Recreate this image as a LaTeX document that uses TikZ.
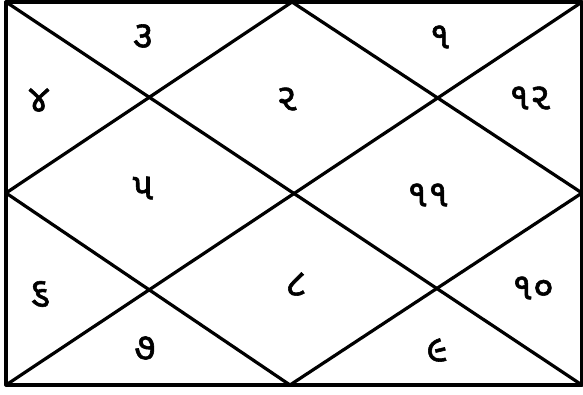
\documentclass[tikz,border=0pt]{standalone}
\usepackage{fontspec}
\newfontfamily\gujfont[Script=Gujarati,FakeBold=1.5]{Noto Sans Gujarati UI}
\usetikzlibrary{positioning}

\begin{document}
\begin{tikzpicture}[
  x=1pt, y=-1pt,
  house/.style={font=\gujfont\fontsize{38}{38}\selectfont, inner sep=0pt},
  chartline/.style={line width=3.2pt, line cap=round, line join=round}
]
  \useasboundingbox (0,0) rectangle (583,394);

  % Corners and midpoints of the chart
  \coordinate (tl) at (6,2);
  \coordinate (tr) at (582,2);
  \coordinate (bl) at (6,385);
  \coordinate (br) at (582,385);
  \coordinate (tm) at (292,2);
  \coordinate (rm) at (582,193);
  \coordinate (bm) at (290,385);
  \coordinate (lm) at (6,193);

  % Outer frame
  \draw[chartline] (tl) -- (tr) -- (br) -- (bl) -- cycle;

  % Diagonals
  \draw[chartline] (tl) -- (br);
  \draw[chartline] (tr) -- (bl);

  % Inner diamond
  \draw[chartline] (tm) -- (rm) -- (bm) -- (lm) -- cycle;

  % House numbers
  \node[house] (h1) at (440,37) {૧};
  \node[house] (h2) at (287,99) {૨};
  \node[house] (h3) at (143,36) {૩};
  \node[house] (h4) at (39,100) {૪};
  \node[house] (h5) at (143,188) {૫};
  \node[house] (h6) at (40,294) {૬};
  \node[house] (h7) at (145,348) {૭};
  \node[house] (h8) at (296,284) {૮};
  \node[house] (h9) at (437,350) {૯};
  \node[house] (h10) at (533,288) {૧૦};
  \node[house] (h11) at (428,195) {૧૧};
  \node[house] (h12) at (530,98) {૧૨};
\end{tikzpicture}
\end{document}
